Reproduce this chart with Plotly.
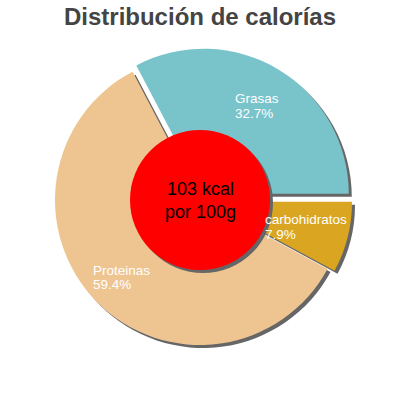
import numpy as np
import plotly.graph_objects as go

# data
labels = ['Grasas', 'carbohidratos', 'Proteinas']
values = [32.7, 7.9, 59.4]
pct_text = ['32.7%', '7.9%', '59.4%']
colors = ['#79C3CB', '#DAA520', '#EEC591']
center_text = '103 kcal<br>por 100g'
title = 'Distribución de calorías'

W = H = 400
cx, cy = 200, 200          # pie centre, px
r = 145                    # pie radius, px
pull = 0.05
hole_r = 70
shadow = 3
shadow_col = '#666666'
font = 'Liberation Sans, Arial, sans-serif'

# pie domain so that radius ends up r once plotly shrinks for the pull
half = r * (1 + pull)
dom_x = [(cx - half) / W, (cx + half) / W]
dom_y = [(H - cy - half) / H, (H - cy + half) / H]
rot = 90 - 3.6 * values[0]

def pie(cols, dx, dy):
	return go.Pie(
		labels=labels, values=values, sort=False, direction='clockwise',
		rotation=rot, pull=[pull, pull, 0],
		marker=dict(colors=cols, line=dict(width=0)),
		textinfo='none', hoverinfo='skip', showlegend=False,
		domain=dict(x=[dom_x[0] + dx / W, dom_x[1] + dx / W],
		            y=[dom_y[0] - dy / H, dom_y[1] - dy / H]),
	)

traces = [pie([shadow_col] * 3, shadow, shadow), pie(colors, 0, 0)]

def circle(x, y, rad, col):
	return dict(type='circle', xref='paper', yref='paper', layer='above',
	            x0=(x - rad) / W, x1=(x + rad) / W,
	            y0=(H - y - rad) / H, y1=(H - y + rad) / H,
	            fillcolor=col, line=dict(width=0))

shapes = [circle(cx + shadow, cy + shadow, hole_r, shadow_col),
          circle(cx, cy, hole_r, '#FF0000')]

# labels sit on each slice bisector, name over percentage, left aligned
label_r = 110
box_w = [44, 84, 58]
line_gap = 14.5
lab_font = dict(family=font, size=13.5, color='white')
annotations = []
ang = 90 - rot
for i, v in enumerate(values):
	span = 3.6 * v
	mid = np.radians(ang - span / 2)
	x = cx + label_r * np.cos(mid)
	y = cy - label_r * np.sin(mid)
	for txt, dy in [(labels[i], -line_gap / 2), (pct_text[i], line_gap / 2)]:
		annotations.append(dict(
			x=x / W, y=(H - y - dy) / H, xref='paper', yref='paper',
			text=txt, showarrow=False, width=box_w[i],
			xanchor='center', yanchor='middle', align='left',
			borderpad=0, font=lab_font))
	ang -= span

annotations.append(dict(
	x=cx / W, y=(H - cy) / H, xref='paper', yref='paper',
	text=center_text, showarrow=False, xanchor='center', yanchor='middle',
	font=dict(family=font, size=18, color='black')))

layout = go.Layout(
	width=W, height=H,
	margin=dict(l=0, r=0, t=0, b=0),
	paper_bgcolor='white', plot_bgcolor='white',
	title=dict(text='<b>' + title + '</b>', x=0.5, xanchor='center',
	           y=0.98, yanchor='top',
	           font=dict(family=font, size=24, color='#444444')),
	shapes=shapes, annotations=annotations,
)
fig = go.Figure(data=traces, layout=layout)
fig.write_html('out.html', config={'displayModeBar': False},
               post_script="document.body.style.margin='0';")
